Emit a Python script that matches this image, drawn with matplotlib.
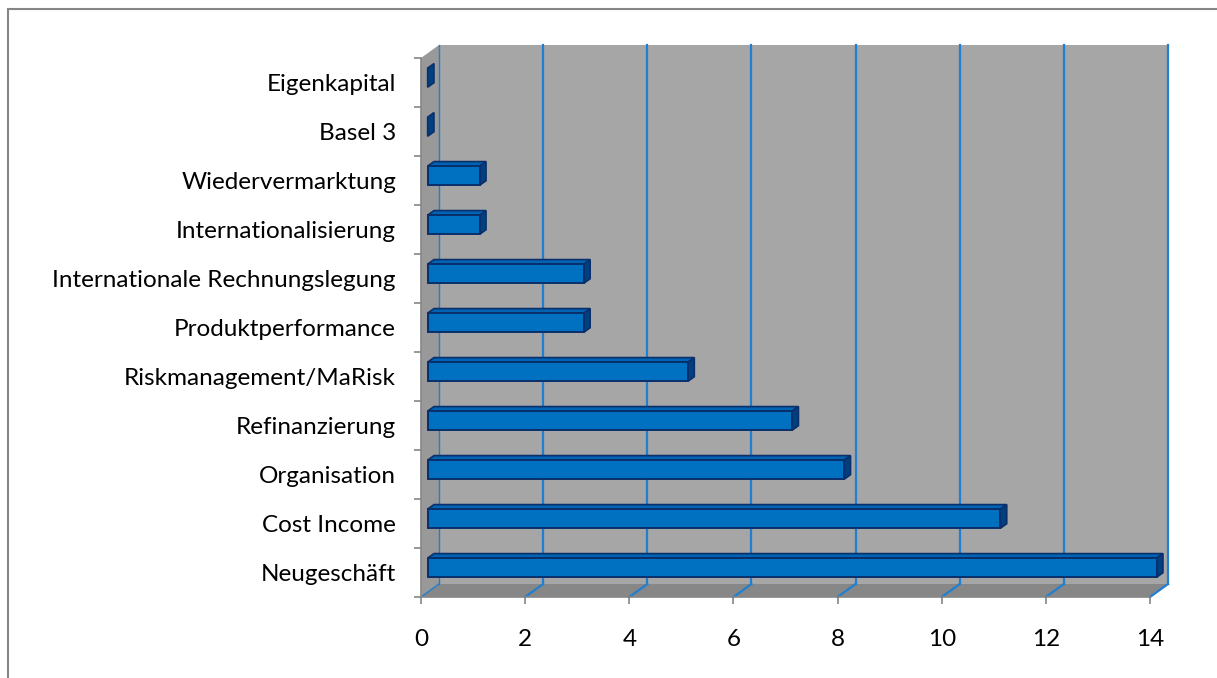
import matplotlib
matplotlib.use("Agg")
import matplotlib.pyplot as plt
from matplotlib.patches import Polygon, Rectangle
import numpy as np

# Kategorien von unten nach oben
categories = ["Neugeschäft", "Cost Income", "Organisation", "Refinanzierung",
              "Riskmanagement/MaRisk", "Produktperformance",
              "Internationale Rechnungslegung", "Internationalisierung",
              "Wiedervermarktung", "Basel 3", "Eigenkapital"]
values = [14, 11, 8, 7, 5, 3, 3, 1, 1, 0, 0]
x_ticks = [0, 2, 4, 6, 8, 10, 12, 14]

plt.rcParams['font.family'] = ['Lato', 'DejaVu Sans']

W, H = 1217, 678
fig = plt.figure(figsize=(W / 100, H / 100), dpi=100)

# pixel mapping of the front plane: x=0 -> 421px, 14 -> 1150px ; category band 49px
px_per_x = (1150 - 421) / 14.0
px_per_y = 49.0
left_px, right_px, top_px, bot_px = 400, 1200, 30, 620
ax = fig.add_axes([left_px / W, (H - bot_px) / H, (right_px - left_px) / W, (bot_px - top_px) / H])
ax.set_xlim((left_px - 421) / px_per_x, (right_px - 421) / px_per_x)
ax.set_ylim((597 - bot_px) / px_per_y - 0.5, (597 - top_px) / px_per_y - 0.5)
ax.patch.set_alpha(0)

# chart border
fig.patches.append(Rectangle((8 / W, -0.1), 1.2, (H - 9.5) / H + 0.1, transform=fig.transFigure,
                             fill=False, edgecolor="#868686", linewidth=1.5))

n = len(categories)
ylo, yhi = -0.5, n - 0.5
xmax = x_ticks[-1]
DX = 18 / px_per_x   # depth offset
DY = 13 / px_per_y

# walls
ax.add_patch(Polygon([(0, ylo), (DX, ylo + DY), (DX, yhi + DY), (0, yhi)],
                     closed=True, facecolor="#999999", edgecolor="none", zorder=1))
ax.add_patch(Rectangle((DX, ylo + DY), xmax, yhi - ylo, facecolor="#a6a6a6",
                       edgecolor="none", zorder=1))
ax.add_patch(Polygon([(0, ylo), (xmax, ylo), (xmax + DX, ylo + DY), (DX, ylo + DY)],
                     closed=True, facecolor="#878787", edgecolor="none", zorder=1))

# gridlines on back wall + floor
for t in x_ticks:
    lw = 1.0 if t == 0 else 1.6
    ax.plot([t + DX, t + DX], [ylo + DY, yhi + DY], color="#1f7fd0", lw=lw, zorder=2)
    ax.plot([t, t + DX], [ylo, ylo + DY], color="#1f7fd0", lw=lw, zorder=2)

# 3D bars
d0, d1 = 0.37, 0.72
hh = 0.195
front_c, top_c, side_c, edge_c = "#0070c0", "#0064b4", "#003f80", "#0a2f6b"
for i, v in enumerate(values):
    ox, oy = d0 * DX, d0 * DY
    bx, by = (d1 - d0) * DX, (d1 - d0) * DY
    y0, y1 = i - hh + oy, i + hh + oy
    x0, x1 = ox, v + ox
    if v > 0:
        ax.add_patch(Polygon([(x0, y1), (x1, y1), (x1 + bx, y1 + by), (x0 + bx, y1 + by)],
                             closed=True, facecolor=top_c, edgecolor=edge_c, lw=1.2, zorder=3))
    ax.add_patch(Polygon([(x1, y0), (x1 + bx, y0 + by), (x1 + bx, y1 + by), (x1, y1)],
                         closed=True, facecolor=side_c, edgecolor=edge_c, lw=1.2, zorder=3))
    if v > 0:
        ax.add_patch(Rectangle((x0, y0), v, y1 - y0, facecolor=front_c,
                               edgecolor=edge_c, lw=1.4, zorder=4))

# axes
for s in ["top", "right"]:
    ax.spines[s].set_visible(False)
ax.spines["left"].set_position(("data", 0))
ax.spines["left"].set_bounds(ylo, yhi)
ax.spines["bottom"].set_position(("data", ylo))
ax.spines["bottom"].set_bounds(0, xmax)
for s in ["left", "bottom"]:
    ax.spines[s].set_color("#868686")
    ax.spines[s].set_linewidth(1.2)
    ax.spines[s].set_zorder(5)

ax.set_xticks(x_ticks)
ax.set_xticklabels([str(t) for t in x_ticks])
ax.tick_params(axis="x", length=5, width=1.2, color="#868686", pad=18, labelsize=17.5,
               labelcolor="black")

ax.set_yticks(np.arange(n + 1) - 0.5)
ax.set_yticklabels([])
ax.set_yticks(np.arange(n), minor=True)
ax.set_yticklabels(categories, minor=True)
ax.tick_params(axis="y", which="major", length=5, width=1.2, color="#868686")
ax.tick_params(axis="y", which="minor", length=0, pad=18, labelsize=17.5, labelcolor="black")

fig.savefig("out.png", dpi=100)
